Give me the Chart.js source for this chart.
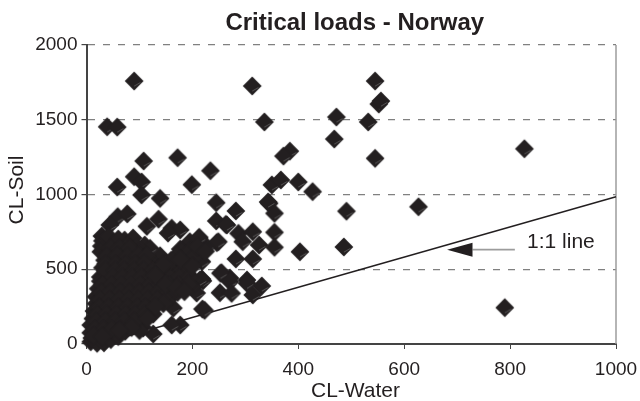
<!DOCTYPE html>
<html><head><meta charset="utf-8">
<style>html,body{margin:0;padding:0;background:#fff}#w{width:640px;height:401px}</style>
<script src="https://cdn.jsdelivr.net/npm/chart.js@4"></script></head>
<body><div id="w"><canvas id="c"></canvas></div>
<script>
const titleText='Critical loads - Norway', xTitle='CL-Water', yTitle='CL-Soil';
const xTicks=[0,200,400,600,800,1000], yTicks=[0,500,1000,1500,2000];
const lineWater=[24,1000], lineSoil=[0,985];
const arrowWater=[809,729,681], arrowSoil=[631,47];
const labelText='1:1 line', labelAt=[832,684];
const outliers=[[90,1759],[313,1726],[336,1485],[39,1453],[58,1451],[108,1224],[172,1246],[234,1159],[384,1290],[372,1257],[90,1119],[104,1084],[58,1050],[199,1066],[350,1064],[367,1097],[400,1084],[427,1019],[104,997],[139,974],[245,945],[343,950],[545,1759],[552,1605],[556,1625],[472,1518],[532,1485],[468,1371],[545,1242],[827,1306],[491,888],[627,918],[486,649],[790,243],[403,617]];
const midRange=[[282,890],[345,941],[355,874],[245,823],[263,800],[287,740],[295,684],[314,751],[326,662],[355,747],[355,647],[282,569],[314,569],[213,714],[195,684],[177,635],[246,678],[227,651],[218,551],[255,477],[218,435],[271,441],[303,428],[253,473],[271,417],[252,343],[274,339],[303,406],[331,388],[314,328],[219,234],[223,225],[177,127],[161,127],[220,423],[126,67],[107,107],[59,852],[77,870],[44,796],[29,722],[136,835],[161,774],[114,787],[177,763],[154,742],[110,662],[120,640],[139,590],[180,617],[212,707],[265,796],[249,684],[189,541],[214,428],[208,341],[164,240]];
const denseCore=[[30,690],[72,695],[88,709],[50,660],[28,655],[66,665],[95,650],[27,617],[42,610],[60,615],[80,606],[98,612],[34,560],[52,566],[70,555],[90,562],[107,570],[125,540],[30,510],[46,515],[64,505],[82,512],[100,507],[118,515],[136,505],[155,512],[172,518],[185,505],[26,448],[40,470],[58,462],[76,475],[94,465],[113,472],[133,480],[150,468],[168,462],[190,470],[26,420],[42,425],[60,415],[78,422],[96,418],[115,425],[132,415],[150,420],[168,428],[186,415],[202,430],[22,370],[38,375],[56,365],[74,372],[92,368],[110,376],[128,365],[146,372],[164,366],[184,378],[198,385],[18,316],[34,322],[52,315],[70,325],[88,318],[106,324],[124,316],[142,322],[160,318],[18,270],[36,275],[54,265],[72,272],[90,268],[108,274],[120,283],[14,220],[30,226],[48,218],[66,225],[84,220],[102,226],[118,215],[126,200],[12,170],[28,175],[46,168],[64,174],[82,168],[100,175],[8,127],[24,125],[42,130],[60,122],[76,128],[94,127],[8,75],[24,80],[40,72],[56,78],[73,85],[100,90],[8,15],[10,40],[20,25],[20,5],[33,8],[46,30],[60,50],
[42,720],[60,702],[78,660],[45,640],[62,640],[82,640],[38,585],[58,590],[78,585],[98,590],[114,590],[36,535],[55,535],[74,530],[92,535],[110,540],[36,490],[54,490],[72,490],[90,490],[108,490],[126,490],[144,490],[162,490],[180,490],[50,445],[68,445],[86,445],[104,445],[122,445],[140,445],[158,445],[176,445],[195,445],[30,395],[48,395],[66,395],[84,395],[102,395],[120,395],[138,395],[156,395],[174,395],[192,400],[28,345],[46,345],[64,345],[82,345],[100,345],[118,345],[136,345],[154,345],[172,345],[26,295],[44,295],[62,295],[80,295],[98,295],[116,295],[134,295],[24,245],[42,245],[60,245],[78,245],[96,245],[112,245],[20,195],[38,195],[56,195],[74,195],[92,195],[110,195],[18,150],[36,150],[54,150],[72,150],[90,150],[16,100],[32,100],[48,100],[64,100],[14,55],[30,50],
[195,620],[205,590],[210,650],[225,620],[170,590],[160,560],[178,565],[200,520],[145,530],[130,460],[150,400],[170,375],[185,350],[145,270],[130,250],[115,170],[85,110],[62,90]];
const midPoints=[...midRange,...outliers].map(p=>({x:p[0],y:p[1]}));
const corePoints=denseCore.map(p=>({x:p[0],y:p[1]}));
const ink='#231f20';
const R=9.4;
function marker(tick){const c=document.createElement('canvas');c.width=22;c.height=22;const g=c.getContext('2d');g.fillStyle=ink;g.beginPath();g.moveTo(11,11-R);g.lineTo(11+R,11);g.lineTo(11,11+R);g.lineTo(11-R,11);g.closePath();g.fill();
if(tick){g.strokeStyle='#8a8a8a';g.lineWidth=.5;g.beginPath();g.moveTo(11,16.2);g.lineTo(17.4,12.4);g.stroke();}return c;}
const decor={id:'decor',
afterLayout(ch){if(ch.titleBlock){ch.titleBlock.left+=3.5;ch.titleBlock.right+=3.5;}},
beforeDatasetsDraw(ch){const {ctx,chartArea:a}=ch;ctx.save();ctx.strokeStyle='#9c9c9c';ctx.lineWidth=1.5;ctx.beginPath();ctx.moveTo(a.right,a.top);ctx.lineTo(a.right,a.bottom);ctx.stroke();ctx.restore();},
afterDatasetsDraw(ch){const {ctx,scales:{x,y}}=ch;const py=y.getPixelForValue(arrowSoil[0]);const hh=Math.abs(y.getPixelForValue(arrowSoil[1])-y.getPixelForValue(0));
const x0=x.getPixelForValue(arrowWater[0]),x1=x.getPixelForValue(arrowWater[1]),x2=x.getPixelForValue(arrowWater[2]);
ctx.save();ctx.strokeStyle='#9c9c9c';ctx.lineWidth=1.6;ctx.beginPath();ctx.moveTo(x0,py);ctx.lineTo(x1,py);ctx.stroke();
ctx.fillStyle=ink;ctx.beginPath();ctx.moveTo(x2,py);ctx.lineTo(x1,py-hh);ctx.lineTo(x1,py+hh);ctx.closePath();ctx.fill();
ctx.font='21px "Liberation Sans"';ctx.textBaseline='middle';ctx.textAlign='left';ctx.fillText(labelText,x.getPixelForValue(labelAt[0]),y.getPixelForValue(labelAt[1]));
ctx.textAlign='center';ctx.fillText(xTitle,355.5,391);
ctx.translate(17,190);ctx.rotate(-Math.PI/2);ctx.fillText(yTitle,0,0);ctx.restore();}};
const fnt={family:'"Liberation Sans"',size:19};
new Chart(document.getElementById('c'),{type:'scatter',plugins:[decor],
data:{datasets:[
{type:'line',data:lineWater.map((v,i)=>({x:v,y:lineSoil[i]})),borderColor:ink,borderWidth:1.4,pointRadius:0,clip:false,order:3},
{data:midPoints,pointStyle:marker(true),pointRadius:R,borderWidth:0,clip:false,order:2},
{data:corePoints,pointStyle:marker(false),pointRadius:R,borderWidth:0,clip:false,order:1}]},
options:{responsive:true,maintainAspectRatio:false,animation:false,
layout:{padding:{left:0,right:24,top:0,bottom:0}},
plugins:{legend:{display:false},tooltip:{enabled:false},
title:{display:true,fullSize:false,text:titleText,color:ink,font:{family:'"Liberation Sans"',size:24,weight:'bold'},padding:{top:9,bottom:7.2}}},
scales:{
x:{type:'linear',min:0,max:1000,afterFit(s){s.height=57;s.paddingRight=0;s.paddingLeft=0},afterBuildTicks(s){s.ticks=xTicks.map(v=>({value:v}))},
 ticks:{color:ink,font:fnt,maxRotation:0,padding:9,callback:v=>String(v)},
 grid:{drawOnChartArea:false,drawTicks:true,tickLength:5,color:'#444'},border:{color:'#444',width:2}},
y:{type:'linear',min:0,max:2000,afterFit(s){s.width=86.5;s.paddingTop=0;s.paddingBottom=0},afterBuildTicks(s){s.ticks=yTicks.map(v=>({value:v}))},
 ticks:{color:ink,font:fnt,padding:4,callback:v=>String(v)},
 grid:{color:'#808080',lineWidth:1.2,tickLength:5,tickColor:'#444',tickBorderDash:[]},border:{color:'#444',width:2,dash:[7,8]}}
}}});
</script></body></html>
